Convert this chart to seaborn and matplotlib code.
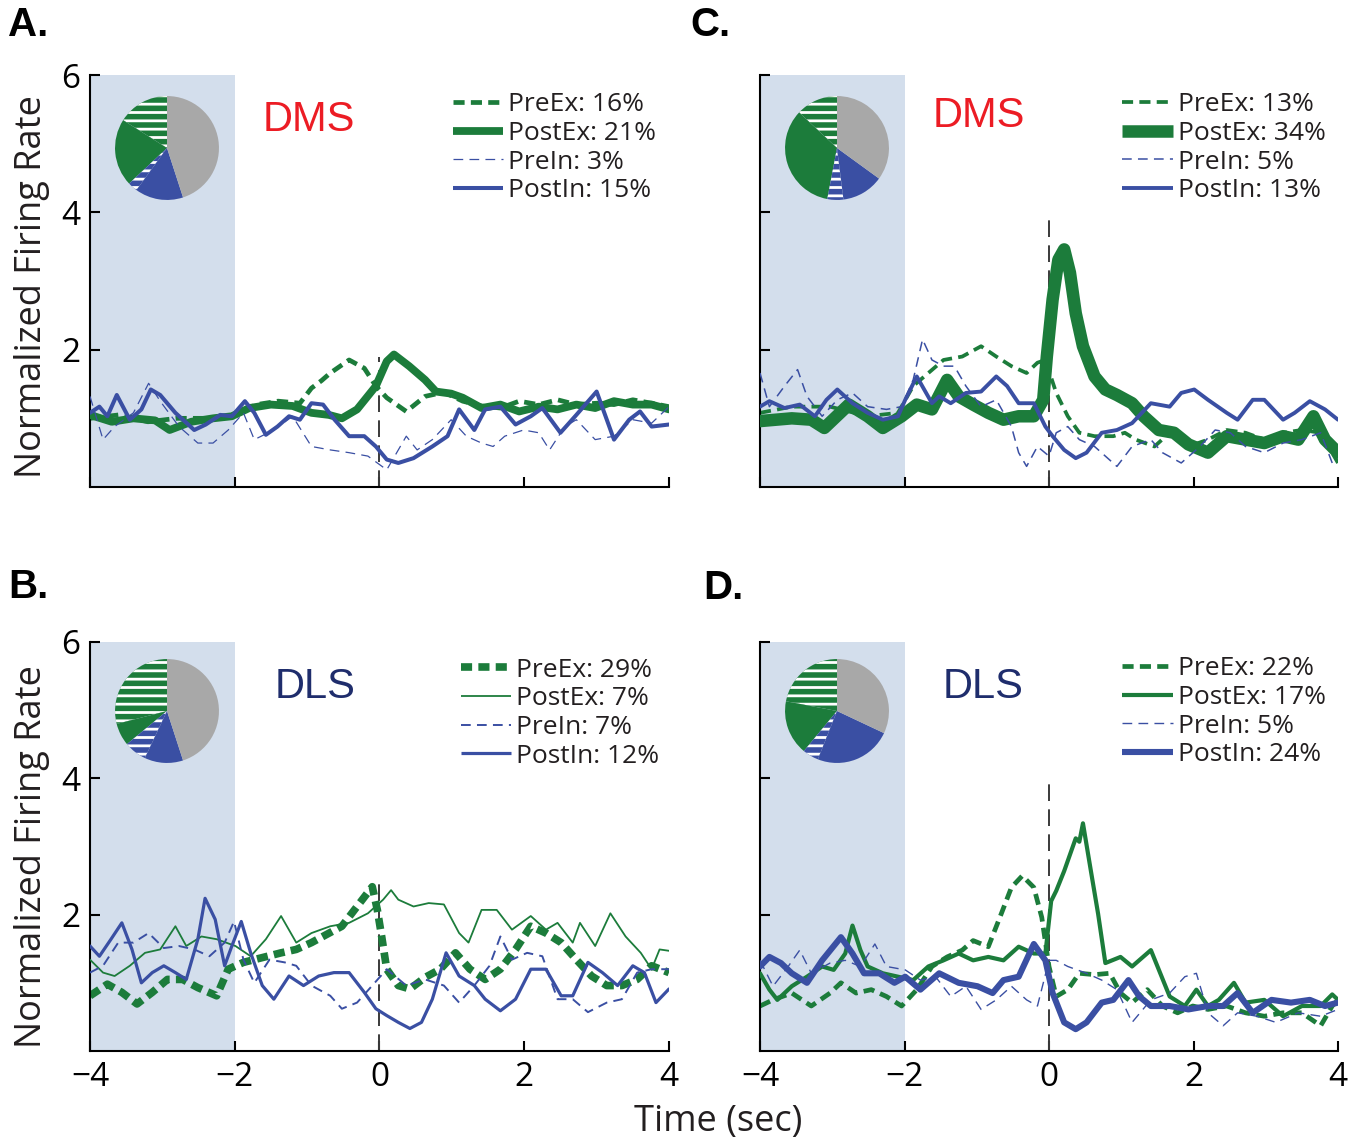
import matplotlib
matplotlib.use("Agg")
import matplotlib.pyplot as plt
import seaborn as sns
from matplotlib.lines import Line2D

# ---------------- data ----------------
series_names = ["PreEx", "PostEx", "PreIn", "PostIn"]
pct_A = [16, 21, 3, 15]
pct_C = [13, 34, 5, 13]
pct_B = [29, 7, 7, 12]
pct_D = [22, 17, 5, 24]

baseline_window = (-4, -2)
event_time = 0
event_line_top = {"A": 1.9, "B": 2.5, "C": 4.0, "D": 4.0}
x_ticks = [-4, -2, 0, 2, 4]
y_ticks = [2, 4, 6]

# Panel A (DMS)
A_PreEx_t = [-4, -3.6, -3.2, -2.8, -2.4, -2.0, -1.7, -1.4, -1.1, -0.94, -0.8, -0.68, -0.42, -0.21, -0.05, 0.1, 0.37, 0.63, 0.89, 1.15, 1.41, 1.67, 1.93, 2.2, 2.46, 2.72, 3.0, 3.24, 3.5, 3.76, 4.0]
A_PreEx_v = [1.0, 1.05, 0.95, 1.0, 1.0, 1.05, 1.2, 1.25, 1.22, 1.44, 1.55, 1.66, 1.85, 1.73, 1.47, 1.3, 1.1, 1.32, 1.38, 1.25, 1.18, 1.15, 1.25, 1.2, 1.27, 1.2, 1.22, 1.2, 1.27, 1.22, 1.17]
A_PostEx_t = [-4, -3.7, -3.4, -3.1, -2.9, -2.6, -2.3, -2.04, -1.8, -1.5, -1.2, -0.94, -0.7, -0.52, -0.31, -0.05, 0.1, 0.2, 0.41, 0.63, 0.78, 0.99, 1.15, 1.41, 1.67, 1.93, 2.2, 2.46, 2.72, 2.98, 3.24, 3.5, 3.76, 4.0]
A_PostEx_v = [1.05, 0.95, 1.0, 0.97, 0.83, 0.95, 1.0, 1.03, 1.15, 1.2, 1.18, 1.08, 1.05, 1.0, 1.13, 1.47, 1.83, 1.93, 1.76, 1.56, 1.39, 1.36, 1.3, 1.15, 1.2, 1.1, 1.17, 1.13, 1.2, 1.15, 1.25, 1.2, 1.2, 1.13]
A_PreIn_t = [-4.00, -3.82, -3.66, -3.40, -3.19, -3.03, -2.77, -2.51, -2.30, -2.09, -1.88, -1.73, -1.46, -1.20, -0.94, -0.68, -0.42, -0.16, 0.10, 0.37, 0.52, 0.73, 0.99, 1.20, 1.41, 1.57, 1.73, 1.99, 2.20, 2.35, 2.56, 2.72, 2.98, 3.24, 3.50, 3.76, 4.00]
A_PreIn_v = [1.32, 0.69, 0.88, 1.08, 1.51, 1.25, 0.88, 0.64, 0.64, 0.83, 1.08, 0.69, 0.83, 1.03, 0.59, 0.54, 0.50, 0.45, 0.25, 0.74, 0.54, 0.69, 0.98, 0.74, 0.64, 0.59, 0.74, 0.83, 0.79, 0.54, 0.88, 0.98, 0.69, 0.74, 0.98, 0.93, 1.17]
A_PostIn_t = [-4, -3.87, -3.76, -3.63, -3.45, -3.29, -3.16, -3.03, -2.82, -2.56, -2.4, -2.2, -2.04, -1.86, -1.73, -1.57, -1.41, -1.25, -1.1, -0.94, -0.78, -0.62, -0.42, -0.21, -0.05, 0.1, 0.26, 0.47, 0.73, 0.94, 1.1, 1.31, 1.46, 1.67, 1.88, 2.09, 2.25, 2.5, 2.72, 3.0, 3.24, 3.45, 3.6, 3.76, 4.0]
A_PostIn_v = [1.08, 1.17, 1.03, 1.34, 0.98, 1.13, 1.42, 1.34, 1.08, 0.83, 0.91, 1.05, 1.03, 1.25, 1.08, 0.76, 0.88, 1.03, 0.98, 1.22, 1.2, 0.98, 0.74, 0.74, 0.59, 0.4, 0.35, 0.42, 0.59, 0.74, 1.13, 0.83, 1.13, 1.17, 0.91, 1.03, 1.15, 0.79, 1.05, 1.39, 0.69, 0.98, 1.1, 0.88, 0.91]

# Panel C (DMS)
C_PreEx_t = [-4.00, -3.56, -3.03, -2.51, -2.09, -1.88, -1.67, -1.46, -1.20, -0.94, -0.73, -0.52, -0.31, -0.16, -0.05, 0.10, 0.26, 0.42, 0.63, 0.89, 1.05, 1.20, 1.46, 1.67, 1.93, 2.20, 2.46, 2.72, 2.98, 3.24, 3.50, 3.76, 4.00]
C_PreEx_v = [1.08, 1.17, 1.17, 1.03, 1.08, 1.47, 1.66, 1.85, 1.90, 2.05, 1.90, 1.76, 1.66, 1.81, 1.85, 1.37, 1.03, 0.79, 0.74, 0.74, 0.79, 0.69, 0.59, 0.79, 0.59, 0.69, 0.83, 0.79, 0.69, 0.79, 0.83, 0.79, 0.35]
C_PostEx_t = [-4.00, -3.56, -3.29, -3.11, -2.77, -2.51, -2.30, -2.04, -1.83, -1.62, -1.41, -1.25, -1.05, -0.84, -0.63, -0.42, -0.21, -0.08, -0.03, 0.05, 0.13, 0.21, 0.29, 0.37, 0.47, 0.63, 0.78, 0.94, 1.15, 1.31, 1.52, 1.73, 1.93, 2.20, 2.46, 2.72, 2.98, 3.24, 3.45, 3.66, 3.82, 4.00]
C_PostEx_v = [0.96, 1.00, 0.98, 0.86, 1.20, 1.03, 0.86, 1.03, 1.20, 1.13, 1.56, 1.32, 1.20, 1.08, 0.98, 1.03, 1.03, 1.27, 1.90, 2.73, 3.31, 3.46, 3.12, 2.53, 2.05, 1.61, 1.42, 1.34, 1.22, 1.03, 0.83, 0.79, 0.62, 0.50, 0.74, 0.69, 0.64, 0.74, 0.69, 1.03, 0.69, 0.50]
C_PreIn_t = [-4.00, -3.87, -3.66, -3.48, -3.35, -3.14, -2.93, -2.72, -2.51, -2.25, -2.04, -1.88, -1.75, -1.62, -1.46, -1.31, -1.15, -0.94, -0.73, -0.52, -0.42, -0.31, -0.16, 0.00, 0.10, 0.26, 0.42, 0.63, 0.94, 1.15, 1.41, 1.57, 1.83, 2.09, 2.30, 2.51, 2.72, 2.98, 3.24, 3.50, 3.76, 3.92]
C_PreIn_v = [1.66, 1.17, 1.47, 1.71, 1.32, 1.03, 1.27, 1.37, 1.17, 1.13, 1.17, 1.56, 2.15, 1.85, 1.76, 1.76, 1.47, 1.17, 1.27, 0.88, 0.50, 0.30, 0.59, 0.45, 0.79, 0.88, 0.69, 0.59, 0.30, 0.59, 0.69, 0.50, 0.35, 0.59, 0.83, 0.79, 0.59, 0.50, 0.64, 0.69, 0.79, 0.35]
C_PostIn_t = [-4.00, -3.87, -3.66, -3.45, -3.24, -3.08, -2.93, -2.72, -2.51, -2.30, -2.09, -1.99, -1.83, -1.62, -1.52, -1.36, -1.15, -0.94, -0.73, -0.58, -0.42, -0.21, -0.05, 0.05, 0.21, 0.37, 0.52, 0.73, 0.94, 1.15, 1.41, 1.67, 1.83, 2.01, 2.20, 2.46, 2.61, 2.82, 2.98, 3.24, 3.40, 3.61, 3.82, 4.00]
C_PostIn_v = [1.17, 1.25, 1.15, 1.20, 1.03, 1.27, 1.42, 1.22, 1.08, 0.98, 1.03, 1.27, 1.61, 1.22, 1.32, 1.22, 1.37, 1.39, 1.61, 1.47, 1.22, 1.22, 0.88, 0.74, 0.54, 0.42, 0.50, 0.79, 0.83, 0.93, 1.22, 1.17, 1.37, 1.42, 1.27, 1.08, 0.98, 1.27, 1.27, 0.98, 1.08, 1.25, 1.13, 0.98]

# Panel B (DLS)
B_PreEx_t = [-4.00, -3.76, -3.56, -3.35, -3.14, -2.93, -2.72, -2.51, -2.25, -2.09, -1.88, -1.62, -1.36, -1.15, -0.94, -0.73, -0.52, -0.31, -0.10, -0.03, 0.03, 0.10, 0.26, 0.42, 0.63, 0.84, 1.05, 1.25, 1.46, 1.67, 1.88, 2.09, 2.30, 2.51, 2.72, 2.93, 3.14, 3.35, 3.56, 3.76, 4.00]
B_PreEx_v = [0.81, 0.98, 0.86, 0.69, 0.86, 1.05, 1.05, 0.93, 0.81, 1.20, 1.30, 1.37, 1.44, 1.49, 1.59, 1.71, 1.83, 2.12, 2.41, 2.07, 1.68, 1.20, 0.96, 0.91, 1.08, 1.20, 1.44, 1.20, 1.05, 1.20, 1.49, 1.83, 1.73, 1.59, 1.34, 1.10, 0.96, 0.96, 1.05, 1.25, 1.15]
B_PostEx_t = [-4.00, -3.82, -3.66, -3.45, -3.24, -3.03, -2.82, -2.67, -2.46, -2.25, -1.99, -1.78, -1.57, -1.36, -1.15, -0.94, -0.68, -0.42, -0.16, 0.05, 0.16, 0.26, 0.47, 0.68, 0.89, 1.10, 1.23, 1.41, 1.62, 1.83, 2.09, 2.30, 2.46, 2.67, 2.77, 2.98, 3.19, 3.40, 3.61, 3.76, 3.87, 4.00]
B_PostEx_v = [1.34, 1.15, 1.10, 1.25, 1.44, 1.49, 1.83, 1.54, 1.68, 1.64, 1.54, 1.39, 1.64, 1.98, 1.59, 1.73, 1.83, 1.88, 2.02, 2.22, 2.36, 2.22, 2.12, 2.17, 2.15, 1.73, 1.59, 2.07, 2.07, 1.78, 1.98, 1.78, 1.88, 1.59, 1.88, 1.54, 2.02, 1.68, 1.44, 1.20, 1.49, 1.47]
B_PreIn_t = [-4.00, -3.82, -3.61, -3.40, -3.19, -2.98, -2.77, -2.56, -2.35, -2.14, -2.01, -1.88, -1.73, -1.52, -1.31, -1.15, -0.94, -0.68, -0.52, -0.31, -0.10, 0.10, 0.37, 0.63, 0.89, 1.10, 1.31, 1.52, 1.67, 1.83, 2.04, 2.25, 2.46, 2.67, 2.88, 3.14, 3.35, 3.56, 3.76, 4.00]
B_PreIn_v = [1.15, 1.25, 1.59, 1.59, 1.73, 1.51, 1.54, 1.49, 1.39, 1.59, 1.90, 1.34, 1.00, 1.34, 1.30, 1.25, 0.96, 0.81, 0.62, 0.71, 0.96, 1.20, 0.96, 1.05, 0.96, 0.71, 0.96, 1.25, 1.68, 1.34, 1.44, 1.39, 0.76, 0.76, 0.57, 0.71, 0.76, 1.15, 1.20, 1.20]
B_PostIn_t = [-4.00, -3.87, -3.71, -3.56, -3.42, -3.29, -3.14, -2.98, -2.82, -2.67, -2.51, -2.41, -2.27, -2.14, -2.04, -1.91, -1.78, -1.62, -1.46, -1.25, -1.05, -0.84, -0.63, -0.42, -0.21, -0.05, 0.10, 0.26, 0.42, 0.58, 0.73, 0.92, 1.10, 1.31, 1.46, 1.67, 1.88, 2.09, 2.30, 2.51, 2.67, 2.88, 3.08, 3.29, 3.50, 3.66, 3.82, 4.00]
B_PostIn_v = [1.54, 1.39, 1.64, 1.88, 1.49, 1.00, 1.15, 1.25, 1.15, 1.05, 1.64, 2.24, 1.93, 1.25, 1.54, 1.90, 1.44, 0.96, 0.76, 1.10, 0.96, 1.10, 1.15, 1.15, 0.86, 0.62, 0.52, 0.42, 0.33, 0.42, 0.76, 1.44, 1.10, 0.96, 0.76, 0.59, 0.76, 1.20, 1.20, 0.81, 0.81, 1.30, 1.15, 0.96, 1.25, 1.15, 0.71, 0.91]

# Panel D (DLS)
D_PreEx_t = [-4.00, -3.82, -3.56, -3.29, -3.03, -2.88, -2.67, -2.46, -2.25, -2.04, -1.83, -1.62, -1.41, -1.20, -1.05, -0.84, -0.68, -0.52, -0.37, -0.21, -0.10, 0.00, 0.10, 0.26, 0.42, 0.63, 0.84, 0.99, 1.15, 1.36, 1.57, 1.78, 1.99, 2.20, 2.46, 2.72, 2.98, 3.24, 3.50, 3.76, 3.92, 4.00]
D_PreEx_v = [0.66, 0.75, 0.85, 0.66, 0.85, 1.00, 0.85, 0.90, 0.80, 0.66, 0.90, 1.24, 1.38, 1.48, 1.62, 1.53, 1.96, 2.40, 2.57, 2.40, 1.96, 1.24, 0.80, 0.90, 1.14, 1.12, 1.14, 0.85, 0.71, 0.90, 0.66, 0.56, 0.66, 0.61, 0.66, 0.56, 0.51, 0.56, 0.56, 0.37, 0.66, 0.75]
D_PostEx_t = [-4.00, -3.87, -3.76, -3.56, -3.35, -3.14, -2.98, -2.82, -2.72, -2.61, -2.51, -2.30, -2.09, -1.88, -1.67, -1.46, -1.25, -1.05, -0.84, -0.63, -0.42, -0.21, -0.05, 0.03, 0.10, 0.21, 0.37, 0.42, 0.47, 0.58, 0.68, 0.78, 0.99, 1.15, 1.41, 1.67, 1.88, 2.04, 2.20, 2.35, 2.56, 2.72, 2.98, 3.24, 3.50, 3.76, 3.92, 4.00]
D_PostEx_v = [1.14, 0.90, 0.75, 0.95, 1.09, 1.24, 1.19, 1.43, 1.84, 1.48, 1.24, 1.14, 1.09, 1.04, 1.24, 1.33, 1.43, 1.33, 1.38, 1.33, 1.53, 1.43, 1.43, 2.20, 2.35, 2.64, 3.12, 3.07, 3.34, 2.64, 2.01, 1.29, 1.38, 1.24, 1.48, 0.80, 0.66, 0.90, 0.66, 0.75, 1.00, 0.71, 0.75, 0.51, 0.66, 0.66, 0.83, 0.75]
D_PreIn_t = [-4.00, -3.82, -3.61, -3.45, -3.29, -3.03, -2.82, -2.61, -2.41, -2.25, -1.99, -1.78, -1.57, -1.36, -1.15, -0.94, -0.73, -0.52, -0.31, -0.16, 0.00, 0.10, 0.26, 0.52, 0.73, 0.94, 1.15, 1.41, 1.67, 1.88, 2.04, 2.20, 2.41, 2.61, 2.88, 3.14, 3.45, 3.76, 4.00]
D_PreIn_v = [1.33, 0.95, 1.24, 1.48, 1.14, 1.29, 1.33, 1.24, 1.57, 1.24, 1.19, 1.04, 1.09, 0.80, 0.95, 0.61, 0.75, 0.95, 0.75, 0.66, 1.33, 1.33, 1.24, 1.14, 1.04, 0.90, 0.42, 0.75, 0.85, 1.09, 1.14, 0.56, 0.37, 0.56, 0.51, 0.42, 0.56, 0.51, 0.61]
D_PostIn_t = [-4.00, -3.87, -3.71, -3.56, -3.35, -3.14, -2.88, -2.72, -2.56, -2.35, -2.14, -1.99, -1.78, -1.52, -1.25, -0.99, -0.78, -0.63, -0.42, -0.21, -0.05, 0.05, 0.21, 0.37, 0.52, 0.73, 0.89, 1.10, 1.25, 1.41, 1.67, 1.93, 2.20, 2.41, 2.61, 2.82, 3.08, 3.35, 3.61, 3.82, 4.00]
D_PostIn_v = [1.24, 1.38, 1.29, 1.14, 1.00, 1.33, 1.67, 1.43, 1.14, 1.14, 1.00, 1.09, 0.90, 1.14, 1.00, 0.95, 0.85, 1.04, 1.09, 1.57, 1.33, 0.85, 0.42, 0.32, 0.42, 0.71, 0.75, 1.04, 0.80, 0.66, 0.66, 0.61, 0.66, 0.66, 0.85, 0.56, 0.75, 0.71, 0.75, 0.66, 0.71]

# ---------------- style ----------------
sns.set_style("ticks")
plt.rcParams["font.family"] = ["Open Sans", "DejaVu Sans"]
plt.rcParams["lines.scale_dashes"] = False
plt.rcParams["hatch.linewidth"] = 2.0

GREEN = "#1c7c3b"
BLUE = "#3a4fa3"
GRAY = "#a8a8a8"
SHADE = "#d3deec"
TEXT = "#231f20"

W, H = 1361, 1146
fig = plt.figure(figsize=(W / 100, H / 100), dpi=100)
fig.patch.set_facecolor("white")


def rect(l, t, r, b):
    return [l / W, 1 - b / H, (r - l) / W, (b - t) / H]


panels = {
    "A": dict(rect=(90, 75, 669, 487), pct=pct_A, region="DMS", rcol="#ec1c24", rpos=(309, 120),
              letter_pos=(8, 25), pie_c=(167, 148), xlab=False, ylab=True,
              lw=[3.4, 5.6, 0.9, 2.9], leg=(0.627, 0.958),
              data=[(A_PreEx_t, A_PreEx_v), (A_PostEx_t, A_PostEx_v), (A_PreIn_t, A_PreIn_v), (A_PostIn_t, A_PostIn_v)]),
    "C": dict(rect=(760, 75, 1338, 487), pct=pct_C, region="DMS", rcol="#ec1c24", rpos=(979, 116),
              letter_pos=(690, 25), pie_c=(837, 148), xlab=False, ylab=False,
              lw=[2.7, 9.0, 1.1, 2.8], leg=(0.627, 0.958),
              data=[(C_PreEx_t, C_PreEx_v), (C_PostEx_t, C_PostEx_v), (C_PreIn_t, C_PreIn_v), (C_PostIn_t, C_PostIn_v)]),
    "B": dict(rect=(90, 642, 669, 1051), pct=pct_B, region="DLS", rcol="#1f2d6c", rpos=(315, 687),
              letter_pos=(8, 587), pie_c=(167, 711), xlab=True, ylab=True,
              lw=[5.5, 1.3, 1.4, 2.3], leg=(0.64, 0.962),
              data=[(B_PreEx_t, B_PreEx_v), (B_PostEx_t, B_PostEx_v), (B_PreIn_t, B_PreIn_v), (B_PostIn_t, B_PostIn_v)]),
    "D": dict(rect=(760, 642, 1338, 1051), pct=pct_D, region="DLS", rcol="#1f2d6c", rpos=(983, 687),
              letter_pos=(703, 588), pie_c=(837, 711), xlab=True, ylab=False,
              lw=[3.4, 3.0, 1.0, 4.4], leg=(0.627, 0.965),
              data=[(D_PreEx_t, D_PreEx_v), (D_PostEx_t, D_PostEx_v), (D_PreIn_t, D_PreIn_v), (D_PostIn_t, D_PostIn_v)]),
}

colors = [GREEN, GREEN, BLUE, BLUE]
styles = [(0, (8, 4.5)), "-", (0, (7, 4.5)), "-"]

for key, p in panels.items():
    ax = fig.add_axes(rect(*p["rect"]))
    ax.set_facecolor("white")
    ax.axvspan(*baseline_window, color=SHADE, lw=0, zorder=0)
    ax.vlines(event_time, 0, event_line_top[key], colors="#3a3a3a", linestyles=(0, (12, 6)), lw=1.4, zorder=1)

    handles = []
    for i, (t, v) in enumerate(p["data"]):
        sns.lineplot(x=t, y=v, ax=ax, color=colors[i], linewidth=p["lw"][i], linestyle=styles[i],
                     errorbar=None, sort=False, zorder=2 + i, solid_joinstyle="round",
                     solid_capstyle="round", dash_capstyle="butt")
        handles.append(Line2D([], [], color=colors[i], lw=p["lw"][i], linestyle=styles[i],
                              dash_capstyle="butt", solid_capstyle="butt"))

    labels = [f"{n}: {v}%" for n, v in zip(series_names, p["pct"])]
    leg = ax.legend(handles, labels, loc="upper left", bbox_to_anchor=p["leg"], frameon=False,
                    borderpad=0, borderaxespad=0, handlelength=1.9, handletextpad=0.2,
                    labelspacing=0.14, fontsize=19)
    for tx in leg.get_texts():
        tx.set_color(TEXT)

    ax.set_xlim(-4, 4)
    ax.set_ylim(0, 6)
    ax.set_xticks(x_ticks)
    ax.set_yticks(y_ticks)
    sns.despine(ax=ax)
    for s in ("left", "bottom"):
        ax.spines[s].set_linewidth(1.5)
        ax.spines[s].set_color("black")
    ax.tick_params(direction="in", length=7, width=1.5, labelsize=24, colors="black", pad=7)
    if not p["xlab"]:
        ax.set_xticklabels([])
    if not p["ylab"]:
        ax.set_yticklabels([])
    ax.set_xlabel("")
    ax.set_ylabel("")

    # inset pie
    cx, cy = p["pie_c"]
    r = 53
    pax = fig.add_axes(rect(cx - r, cy - r, cx + r, cy + r))
    vals = list(p["pct"]) + [100 - sum(p["pct"])]
    wedges, _ = pax.pie(vals, colors=[GREEN, GREEN, BLUE, BLUE, GRAY], startangle=90,
                        counterclock=True, wedgeprops=dict(linewidth=0))
    for i in (0, 2):
        wedges[i].set_hatch("--")
        wedges[i].set_edgecolor("white")
        wedges[i].set_linewidth(0)
    pax.set_xlim(-1.02, 1.02)
    pax.set_ylim(-1.02, 1.02)
    pax.set_aspect("equal")
    pax.axis("off")

    # region label and panel letter
    fig.text(p["rpos"][0] / W, 1 - p["rpos"][1] / H, p["region"], ha="center", va="center",
             fontsize=30, color=p["rcol"], family=["Liberation Sans", "DejaVu Sans"])
    fig.text(p["letter_pos"][0] / W, 1 - p["letter_pos"][1] / H, key + ".", ha="left", va="center",
             fontsize=29, fontweight="bold", color="black", family=["Liberation Sans", "DejaVu Sans"])

fig.text(32 / W, 1 - 287 / H, "Normalized Firing Rate", rotation=90, ha="center", va="center", fontsize=26, color=TEXT)
fig.text(32 / W, 1 - 857 / H, "Normalized Firing Rate", rotation=90, ha="center", va="center", fontsize=26, color=TEXT)
fig.text(718 / W, 1 - 1122 / H, "Time (sec)", ha="center", va="center", fontsize=26, color=TEXT)

fig.savefig("out.png", dpi=100, facecolor="white")
